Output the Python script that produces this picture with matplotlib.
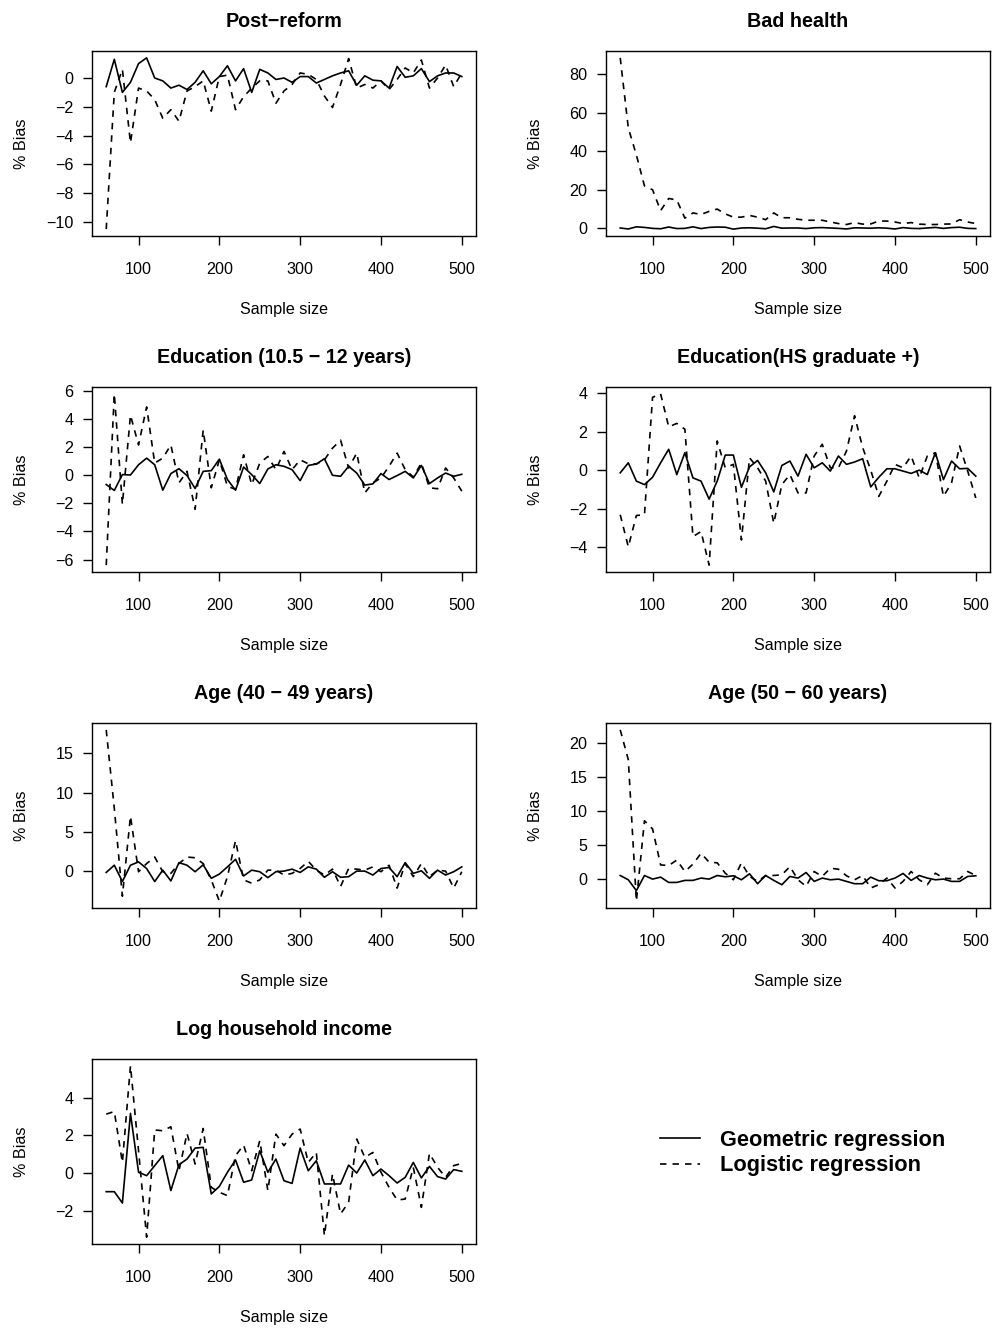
import matplotlib
matplotlib.use("Agg")
import matplotlib.pyplot as plt
from matplotlib.lines import Line2D

plt.rcParams['font.family'] = ['Liberation Sans', 'DejaVu Sans']

sample_size = [60, 70, 80, 90, 100, 110, 120, 130, 140, 150, 160, 170, 180, 190, 200,
               210, 220, 230, 240, 250, 260, 270, 280, 290, 300, 310, 320, 330, 340, 350,
               360, 370, 380, 390, 400, 410, 420, 430, 440, 450, 460, 470, 480, 490, 500]

titles = ["Post\u2212reform", "Bad health", "Education (10.5 \u2212 12 years)",
          "Education(HS graduate +)", "Age (40 \u2212 49 years)", "Age (50 \u2212 60 years)",
          "Log household income"]

# Geometric regression (solid)
geo_post = [-0.6, 1.3, -1.0, -0.3, 1.0, 1.4, 0.0, -0.2, -0.7, -0.5, -0.8, -0.3, 0.5, -0.4, 0.1,
            0.85, -0.2, 0.65, -1.0, 0.6, 0.35, -0.1, 0.0, -0.3, 0.1, 0.1, -0.35, -0.1, 0.15, 0.35,
            0.5, -0.5, 0.15, -0.15, -0.2, -0.7, 0.8, 0.05, 0.15, 0.65, -0.25, 0.15, 0.35, 0.35, 0.1]
geo_health = [0.2, -0.3, 0.8, 0.5, 0.0, -0.2, 0.7, -0.1, 0.0, 0.8, -0.1, 0.5, 0.7, 0.6, -0.4,
              0.2, 0.3, 0.1, -0.2, 1.0, 0.1, 0.2, 0.2, -0.1, 0.3, 0.4, 0.2, 0.0, -0.3, 0.3,
              0.2, 0.1, 0.3, 0.1, -0.3, 0.4, 0.0, -0.1, 0.2, 0.5, 0.0, 0.4, 0.6, 0.0, -0.1]
geo_edu1 = [-0.66, -1.08, 0.05, 0.02, 0.75, 1.22, 0.75, -1.06, 0.12, 0.47, -0.02, -0.94, 0.28, 0.33, 1.15,
            -0.3, -1.06, 0.59, 0.05, -0.59, 0.45, 0.75, 0.64, 0.4, -0.38, 0.7, 0.8, 1.18, 0.0, -0.07,
            0.64, 0.16, -0.7, -0.61, 0.12, -0.3, -0.02, 0.28, -0.19, 0.7, -0.59, -0.19, 0.16, -0.07, 0.07]
geo_edu2 = [-0.14, 0.38, -0.57, -0.75, -0.37, 0.38, 1.08, -0.23, 0.9, -0.4, -0.57, -1.5, -0.57, 0.78, 0.78,
            -0.89, 0.17, 0.5, -0.14, -1.13, 0.24, 0.47, -0.31, 0.82, 0.12, 0.38, -0.05, 0.73, 0.3, 0.42,
            0.59, -0.87, -0.37, 0.07, 0.07, -0.05, -0.17, 0.0, -0.23, 0.9, -0.49, 0.47, 0.07, 0.09, -0.31]
geo_age1 = [-0.17, 0.75, -1.33, 0.75, 1.17, 0.33, -1.33, 0.12, -1.25, 1.08, 0.75, -0.08, 0.8, -0.92, -0.38,
            0.54, 1.5, -0.62, 0.12, -0.08, -0.83, -0.08, 0.0, 0.25, -0.17, 0.54, 0.25, -0.79, -0.08, -0.79,
            -0.71, 0.0, 0.0, -0.5, 0.33, 0.46, -0.71, 1.08, -0.29, 0.04, -0.92, 0.12, -0.5, -0.08, 0.54]
geo_age2 = [0.53, -0.1, -1.7, 0.53, 0.0, 0.29, -0.49, -0.49, -0.19, -0.19, 0.15, 0.0, 0.53, 0.34, 0.49,
            -0.1, 0.78, -0.68, 0.53, -0.19, -0.83, 0.39, 0.15, 0.97, -0.34, 0.15, -0.1, 0.0, -0.34, -0.68,
            -0.68, 0.29, -0.24, -0.24, 0.15, 0.83, -0.19, 0.53, 0.15, -0.1, 0.0, -0.34, -0.34, 0.39, 0.49]
geo_income = [-0.99, -0.99, -1.59, 3.16, 0.04, -0.14, 0.39, 0.92, -0.93, 0.44, 0.74, 1.32, 1.36, -1.11, -0.71,
              0.04, 0.69, -0.49, -0.37, 1.18, 0.04, 0.74, -0.41, -0.55, 1.32, 0.12, 0.65, -0.58, -0.58, -0.58,
              0.42, 0.0, 0.69, -0.14, 0.21, -0.14, -0.53, -0.23, 0.56, -0.26, 0.35, -0.19, -0.32, 0.18, 0.09]

# Logistic regression (dashed)
log_post = [-10.5, -1.0, 0.6, -4.5, -0.7, -0.9, -1.5, -2.8, -2.2, -3.0, -0.9, -0.6, -0.2, -2.3, 0.1,
            0.2, -2.2, -1.3, -0.7, -0.2, -0.2, -1.75, -0.9, -0.45, 0.35, 0.25, -0.1, -1.25, -2.05, -0.45,
            1.35, -0.7, -0.45, -0.7, -0.2, -0.8, -0.1, 0.7, 0.35, 1.25, -0.7, 0.0, 0.9, -0.6, 0.35]
log_health = [88.3, 52.0, 38.0, 22.0, 20.0, 9.2, 15.5, 14.7, 5.3, 8.0, 7.2, 8.8, 10.0, 7.5, 5.8,
              5.8, 6.7, 5.8, 4.5, 8.0, 5.5, 5.5, 4.7, 4.2, 4.2, 4.2, 3.3, 2.5, 2.0, 3.0,
              2.2, 2.3, 3.8, 3.8, 3.3, 2.5, 3.0, 2.2, 2.0, 2.0, 2.2, 2.3, 4.5, 3.3, 2.5]
log_edu1 = [-6.4, 5.8, -2.07, 4.28, 2.16, 4.87, 0.87, 1.22, 2.16, -0.54, 0.28, -2.42, 3.22, -0.89, 1.1,
            -0.78, -1.0, 1.46, -0.66, 0.87, 1.34, 0.4, 1.7, 0.4, 1.1, 0.82, 0.8, 1.1, 1.93, 2.5,
            0.52, 1.58, -1.25, -0.54, -0.19, 0.64, 1.58, 0.4, -0.12, 0.87, -0.89, -0.96, 0.52, -0.19, -1.13]
log_edu2 = [-2.31, -3.97, -2.35, -2.31, 3.77, 3.95, 2.24, 2.42, 2.12, -3.44, -3.18, -4.92, 1.51, 0.12, 0.3,
            -3.62, 0.64, 0.12, -0.57, -2.75, -0.75, -0.23, -1.18, -1.18, 0.73, 1.34, 0.12, 0.12, 0.99, 2.82,
            1.17, 0.0, -1.36, -0.57, 0.3, 0.12, 0.73, -0.4, 0.73, 0.9, -1.36, -0.66, 1.25, -0.05, -1.44]
log_age1 = [18.0, 8.0, -3.2, 7.0, -0.08, 0.96, 1.79, -0.08, -0.29, 0.96, 1.79, 1.7, 0.96, -1.12, -3.83,
            -0.71, 3.88, -1.12, -1.54, -1.12, 0.12, 0.12, -0.5, -0.29, 0.33, 1.25, 0.12, -0.5, 0.25, -1.96,
            0.33, 0.25, 0.12, 0.54, -0.08, 0.75, -2.17, 0.96, -0.71, 0.96, -0.71, 0.12, 0.0, -2.17, -0.08]
log_age2 = [22.0, 17.6, -3.25, 8.6, 7.4, 2.09, 2.0, 2.8, 1.12, 2.2, 3.8, 2.5, 2.4, 0.87, -0.1,
            2.4, 0.39, -0.34, 0.53, 0.53, 0.63, 1.84, -0.1, -1.07, 1.12, 0.39, 1.6, 1.46, 0.49, -0.1,
            0.53, -1.31, -0.83, 0.15, -1.31, -0.34, 1.12, -0.1, -0.83, 0.87, 0.15, 0.05, 0.05, 1.12, 0.53]
log_income = [3.12, 3.26, 0.56, 5.68, 1.18, -3.4, 2.28, 2.24, 2.45, 0.12, 2.1, 0.48, 2.36, -0.76, -1.02,
              -1.2, 0.92, 1.48, 0.12, 1.71, -0.93, 2.06, 1.45, 2.06, 2.33, 0.56, 1.09, -3.32, -0.05, -2.17,
              -1.55, 1.8, 0.83, 1.09, 0.04, -0.76, -1.43, -1.38, 0.3, -1.82, 1.04, 0.3, -0.23, 0.39, 0.51]

geo_series = [geo_post, geo_health, geo_edu1, geo_edu2, geo_age1, geo_age2, geo_income]
log_series = [log_post, log_health, log_edu1, log_edu2, log_age1, log_age2, log_income]

y_ticks = [[-10, -8, -6, -4, -2, 0], [0, 20, 40, 60, 80], [-6, -4, -2, 0, 2, 4, 6],
           [-4, -2, 0, 2, 4], [0, 5, 10, 15], [0, 5, 10, 15, 20], [-2, 0, 2, 4]]
x_ticks = [100, 200, 300, 400, 500]

W, H = 996, 1330
fig = plt.figure(figsize=(W / 100, H / 100), dpi=100)

col_left = [92, 606]
row_bottom = [236, 572, 908, 1244]
pw, ph = 384, 185
dash = (0, (3.9, 3.6))

for k in range(7):
    r, c = divmod(k, 2)
    ax = fig.add_axes([col_left[c] / W, 1 - row_bottom[r] / H, pw / W, ph / H])
    ax.plot(sample_size, geo_series[k], color='black', lw=1.2)
    ax.plot(sample_size, log_series[k], color='black', lw=1.2, linestyle=dash)
    ax.margins(x=0.04, y=0.04)
    ax.set_xticks(x_ticks)
    ax.set_yticks(y_ticks[k])
    ax.tick_params(direction='out', length=6.5, width=1, labelsize=11.6, colors='black')
    ax.tick_params(axis='x', pad=12)
    ax.tick_params(axis='y', pad=7)
    for s in ax.spines.values():
        s.set_linewidth(1.0)
    ax.set_title(titles[k], fontsize=14.2, fontweight='bold', pad=17)
    ax.set_xlabel("Sample size", fontsize=11.6)
    ax.set_ylabel("% Bias", fontsize=11.6)
    ax.xaxis.set_label_coords(0.5, -0.355)
    ax.yaxis.set_label_coords(-0.165, 0.5)

handles = [Line2D([], [], color='black', lw=1.2),
           Line2D([], [], color='black', lw=1.2, linestyle=dash)]
fig.legend(handles, ["Geometric regression", "Logistic regression"],
           loc='center left', bbox_to_anchor=(660 / W, 1 - 1153 / H), frameon=False,
           borderpad=0, borderaxespad=0, handlelength=1.85, handletextpad=0.9,
           labelspacing=0.2, prop={'weight': 'bold', 'size': 15.7})

fig.savefig("out.png", dpi=100)
